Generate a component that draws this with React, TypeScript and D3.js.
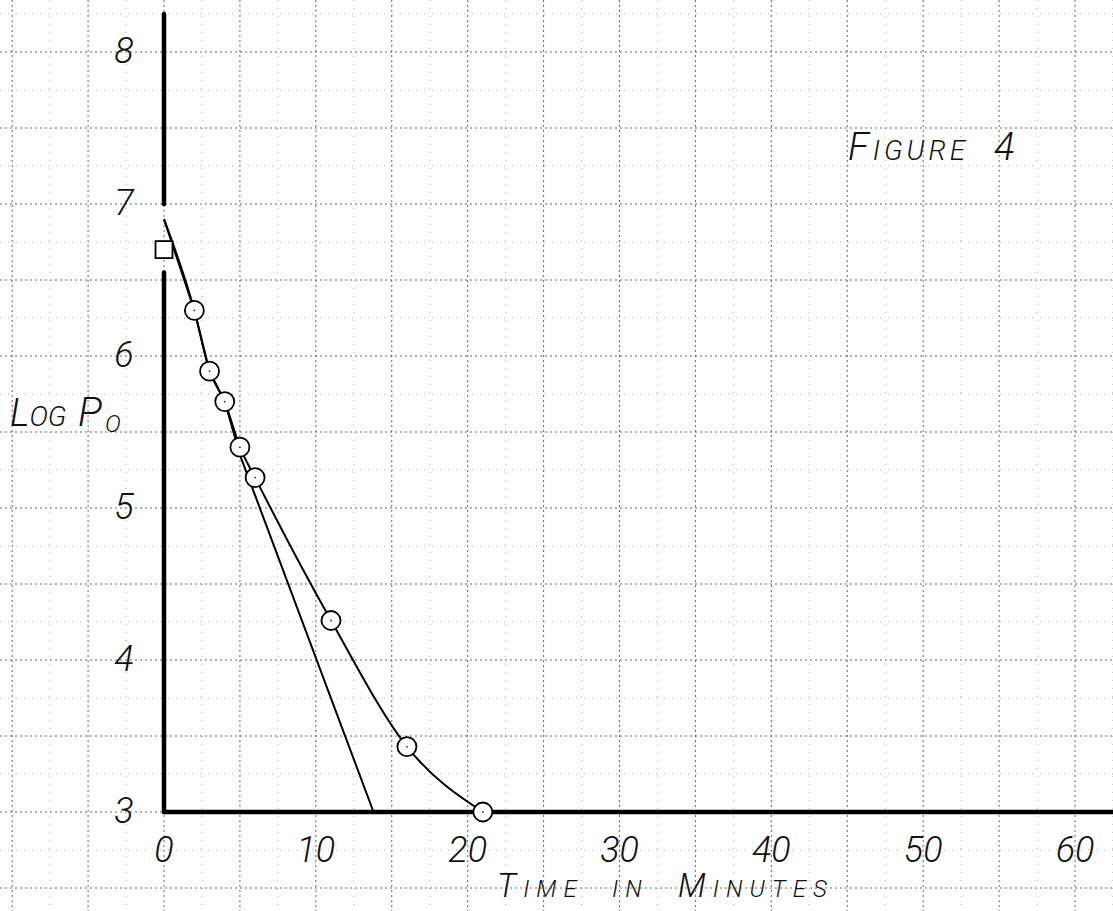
import React, { useEffect, useRef } from "react";
import * as d3 from "d3";

// values
const timeTicks = [0, 10, 20, 30, 40, 50, 60];
const logTicks = [3, 4, 5, 6, 7, 8];
const circleTimes = [2, 3, 4, 5, 6, 11, 16, 21];
const circleLogs = [6.3, 5.9, 5.7, 5.4, 5.2, 4.26, 3.43, 3.0];
const squareTimes = [0];
const squareLogs = [6.7];
// line shared by both branches, from the axis down to the 4 min point
const sharedTimes = [0, 2, 3, 4];
const sharedLogs = [6.9, 6.3, 5.9, 5.7];
// straight extrapolation down to the time axis
const extrapTimes = [5, 13.8];
const extrapLogs = [5.35, 3.0];
// curved branch through the later points
const branchTimes = [5, 6, 11, 16, 21];
const branchLogs = [5.4, 5.2, 4.26, 3.43, 3.0];

const W = 1113;
const H = 911;
const FONT = "Roboto, 'DejaVu Sans', sans-serif";

function App() {
  const ref = useRef(null);

  useEffect(() => {
    d3.select(ref.current).selectAll("*").remove();

    const svg = d3
      .select(ref.current)
      .append("svg")
      .attr("width", W)
      .attr("height", H)
      .style("display", "block")
      .style("background", "#fff");

    const x = d3.scaleLinear().domain([0, 60]).range([164, 1075]);
    const y = d3.scaleLinear().domain([3, 8]).range([812, 52]);

    // graph paper
    const grid = svg.append("g");
    const xs = d3.range(-12.5, 65, 2.5);
    const ys = d3.range(2.25, 8.5, 0.25);
    const isMajor = (v, step) => Math.abs(v / step - Math.round(v / step)) < 1e-6;

    grid
      .selectAll("line.v")
      .data(xs)
      .enter()
      .append("line")
      .attr("x1", d => x(d))
      .attr("x2", d => x(d))
      .attr("y1", 0)
      .attr("y2", H)
      .attr("stroke", d => (isMajor(d, 5) ? "#666" : "#aaa"))
      .attr("stroke-width", 1)
      .attr("stroke-dasharray", d => (isMajor(d, 5) ? "2 3" : "1 7"));

    grid
      .selectAll("line.h")
      .data(ys)
      .enter()
      .append("line")
      .attr("x1", 0)
      .attr("x2", W)
      .attr("y1", d => y(d))
      .attr("y2", d => y(d))
      .attr("stroke", d => (isMajor(d, 0.5) ? "#666" : "#aaa"))
      .attr("stroke-width", 1)
      .attr("stroke-dasharray", d => (isMajor(d, 0.5) ? "2 3" : "1 7"));

    // thick axes
    const axes = svg.append("g").attr("stroke", "#000").attr("stroke-width", 4.5).attr("stroke-linecap", "round");
    axes.append("line").attr("x1", x(0)).attr("x2", x(0)).attr("y1", y(8.25)).attr("y2", y(7.0));
    axes.append("line").attr("x1", x(0)).attr("x2", x(0)).attr("y1", y(6.55)).attr("y2", y(3));
    axes.append("line").attr("x1", x(0)).attr("x2", W).attr("y1", y(3)).attr("y2", y(3));

    const shared = sharedTimes.map((t, i) => [t, sharedLogs[i]]);
    const lineA = shared.concat(extrapTimes.map((t, i) => [t, extrapLogs[i]]));
    const lineB = shared.concat(branchTimes.map((t, i) => [t, branchLogs[i]]));

    const straight = d3
      .line()
      .x(d => x(d[0]))
      .y(d => y(d[1]));
    const smooth = d3
      .line()
      .curve(d3.curveMonotoneX)
      .x(d => x(d[0]))
      .y(d => y(d[1]));

    svg
      .append("path")
      .datum(lineA)
      .attr("fill", "none")
      .attr("stroke", "#000")
      .attr("stroke-width", 2)
      .attr("stroke-linejoin", "round")
      .attr("d", straight);

    svg
      .append("path")
      .datum(lineB)
      .attr("fill", "none")
      .attr("stroke", "#000")
      .attr("stroke-width", 2)
      .attr("d", smooth);

    // square marker
    const sq = 17;
    svg
      .selectAll("rect.sq")
      .data(squareTimes)
      .enter()
      .append("rect")
      .attr("x", d => x(d) - sq / 2)
      .attr("y", (d, i) => y(squareLogs[i]) - sq / 2)
      .attr("width", sq)
      .attr("height", sq)
      .attr("fill", "#fff")
      .attr("stroke", "#000")
      .attr("stroke-width", 1.8);

    // circles
    const pts = svg.append("g");
    pts
      .selectAll("circle")
      .data(circleTimes)
      .enter()
      .append("circle")
      .attr("cx", d => x(d))
      .attr("cy", (d, i) => y(circleLogs[i]))
      .attr("r", 9.5)
      .attr("fill", "#fff")
      .attr("stroke", "#000")
      .attr("stroke-width", 1.8);
    pts
      .selectAll("circle.dot")
      .data(circleTimes)
      .enter()
      .append("circle")
      .attr("cx", d => x(d))
      .attr("cy", (d, i) => y(circleLogs[i]))
      .attr("r", 0.9)
      .attr("fill", "#333");

    // tick labels
    const labels = svg
      .append("g")
      .attr("font-family", FONT)
      .attr("font-style", "italic")
      .attr("font-weight", 300)
      .attr("font-size", 36)
      .attr("fill", "#111");

    labels
      .selectAll("text.x")
      .data(timeTicks)
      .enter()
      .append("text")
      .attr("x", d => x(d))
      .attr("y", y(3) + 50)
      .attr("text-anchor", "middle")
      .text(d => d);

    labels
      .selectAll("text.y")
      .data(logTicks)
      .enter()
      .append("text")
      .attr("x", 124)
      .attr("y", d => y(d) + 11)
      .attr("text-anchor", "middle")
      .text(d => d);

    // hand lettering, big initials + small caps
    const letter = (parts, px, py, spacing) => {
      const t = svg
        .append("text")
        .attr("x", px)
        .attr("y", py)
        .attr("font-family", FONT)
        .attr("font-style", "italic")
        .attr("font-weight", 300)
        .attr("letter-spacing", spacing)
        .attr("fill", "#111");
      parts.forEach(p => {
        const s = t.append("tspan").attr("font-size", p.size).text(p.text);
        if (p.x != null) s.attr("x", p.x);
        if (p.dy) s.attr("dy", p.dy);
      });
    };

    letter(
      [
        { text: "F", size: 38 },
        { text: "IGURE", size: 28 },
        { text: "4", size: 38, x: 994 }
      ],
      848,
      160,
      4
    );
    letter(
      [
        { text: "T", size: 33 },
        { text: "IME", size: 24 },
        { text: "IN", size: 24, x: 612 },
        { text: "M", size: 33, x: 678 },
        { text: "INUTES", size: 24 }
      ],
      497,
      897,
      7
    );
    letter(
      [
        { text: "L", size: 38 },
        { text: "OG", size: 28 },
        { text: "P", size: 40, x: 78 },
        { text: "O", size: 24, x: 105, dy: 6 }
      ],
      10,
      426,
      0
    );
  }, []);

  return (
    <>
      <style>{`body{margin:0;background:#fff}`}</style>
      <div ref={ref} />
    </>
  );
}

export default App;
